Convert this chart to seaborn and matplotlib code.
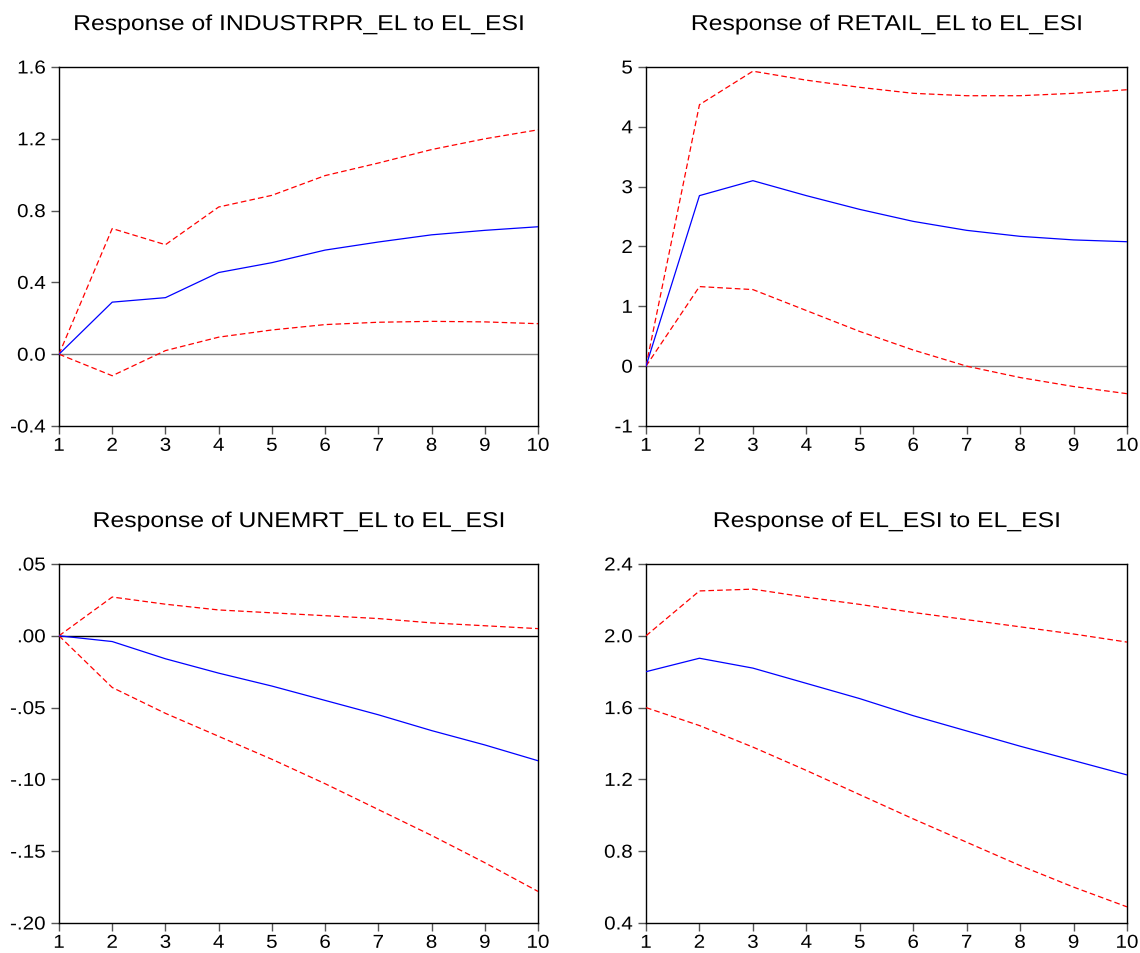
import numpy as np
import pandas as pd
import matplotlib
matplotlib.use("Agg")
import matplotlib.pyplot as plt
import matplotlib.patheffects as pe
from matplotlib.transforms import Affine2D
import seaborn as sns

sns.set_theme(style="white")
plt.rcParams["font.family"] = ["Liberation Sans", "DejaVu Sans"]

periods = list(range(1, 11))

# Impulse responses to an EL_ESI shock with +/- 2 S.E. bands
industrpr_resp = [0.0, 0.29, 0.315, 0.455, 0.51, 0.58, 0.625, 0.665, 0.69, 0.71]
industrpr_upper = [0.0, 0.70, 0.61, 0.82, 0.885, 0.995, 1.065, 1.14, 1.20, 1.25]
industrpr_lower = [0.0, -0.12, 0.02, 0.095, 0.135, 0.165, 0.178, 0.183, 0.18, 0.17]

retail_resp = [0.0, 2.85, 3.10, 2.85, 2.62, 2.42, 2.27, 2.17, 2.11, 2.08]
retail_upper = [0.0, 4.37, 4.93, 4.78, 4.66, 4.56, 4.52, 4.52, 4.56, 4.62]
retail_lower = [0.0, 1.33, 1.28, 0.93, 0.58, 0.27, 0.0, -0.19, -0.34, -0.46]

unemrt_resp = [0.0, -0.004, -0.016, -0.026, -0.035, -0.045, -0.055, -0.066, -0.076, -0.087]
unemrt_upper = [0.0, 0.027, 0.022, 0.018, 0.016, 0.014, 0.012, 0.009, 0.007, 0.005]
unemrt_lower = [0.0, -0.036, -0.054, -0.070, -0.086, -0.103, -0.121, -0.139, -0.158, -0.178]

esi_resp = [1.80, 1.875, 1.82, 1.735, 1.65, 1.555, 1.47, 1.385, 1.305, 1.225]
esi_upper = [2.0, 2.25, 2.26, 2.215, 2.175, 2.13, 2.09, 2.05, 2.01, 1.965]
esi_lower = [1.60, 1.50, 1.38, 1.25, 1.115, 0.98, 0.85, 0.72, 0.60, 0.49]

titles = [
    "Response of INDUSTRPR_EL to EL_ESI",
    "Response of RETAIL_EL to EL_ESI",
    "Response of UNEMRT_EL to EL_ESI",
    "Response of EL_ESI to EL_ESI",
]

ytick_values = [
    [-0.4, 0.0, 0.4, 0.8, 1.2, 1.6],
    [-1, 0, 1, 2, 3, 4, 5],
    [-0.20, -0.15, -0.10, -0.05, 0.00, 0.05],
    [0.4, 0.8, 1.2, 1.6, 2.0, 2.4],
]
ytick_labels = [
    ["-0.4", "0.0", "0.4", "0.8", "1.2", "1.6"],
    ["-1", "0", "1", "2", "3", "4", "5"],
    ["-.20", "-.15", "-.10", "-.05", ".00", ".05"],
    ["0.4", "0.8", "1.2", "1.6", "2.0", "2.4"],
]
zero_line_colors = ["#808080", "#808080", "black", None]

series = [
    (industrpr_resp, industrpr_upper, industrpr_lower),
    (retail_resp, retail_upper, retail_lower),
    (unemrt_resp, unemrt_upper, unemrt_lower),
    (esi_resp, esi_upper, esi_lower),
]


class WideText(pe.AbstractPathEffect):
    """Stretch glyph outlines horizontally about the text's anchor."""

    def __init__(self, sx=1.1, anchor="center"):
        super().__init__()
        self.sx = sx
        self.anchor = anchor

    def draw_path(self, renderer, gc, tpath, affine, rgbFace=None):
        ext = tpath.get_extents()
        if self.anchor == "right":
            cx = ext.x1
        elif self.anchor == "left":
            cx = ext.x0
        else:
            cx = 0.5 * (ext.x0 + ext.x1)
        stretch = Affine2D().translate(-cx, 0).scale(self.sx, 1).translate(cx, 0)
        renderer.draw_path(gc, tpath, stretch + affine, rgbFace)


W, H = 1140, 954
fig = plt.figure(figsize=(W / 100, H / 100), dpi=100)

# panel boxes in pixels: left, top, right, bottom
boxes = [
    (59, 68, 538, 427),
    (646, 68, 1127, 427),
    (59, 565, 538, 924),
    (646, 565, 1127, 924),
]

for i, (box, (resp, up, lo)) in enumerate(zip(boxes, series)):
    l, t, r, b = box
    ax = fig.add_axes([l / W, 1 - b / H, (r - l) / W, (b - t) / H])
    df = pd.DataFrame({"period": periods, "resp": resp, "upper": up, "lower": lo})

    if zero_line_colors[i] is not None:
        ax.axhline(0, color=zero_line_colors[i], lw=1.0, zorder=1)

    sns.lineplot(data=df, x="period", y="upper", ax=ax, color="red",
                 lw=0.9, zorder=3)
    sns.lineplot(data=df, x="period", y="lower", ax=ax, color="red",
                 lw=0.9, zorder=3)
    for ln in ax.lines[-2:]:
        ln.set_dashes([4.5, 2.5])
    sns.lineplot(data=df, x="period", y="resp", ax=ax, color="blue",
                 lw=0.9, zorder=4)

    yt = ytick_values[i]
    ax.set_xlim(1, 10)
    ax.set_ylim(yt[0], yt[-1])
    ax.set_xticks(periods)
    ax.set_xticklabels([str(p) for p in periods])
    ax.set_yticks(yt)
    ax.set_yticklabels(ytick_labels[i])
    ax.set_xlabel("")
    ax.set_ylabel("")
    title = ax.set_title(titles[i], fontsize=15.5, color="black", pad=26.6)
    title.set_path_effects([WideText(1.15, "center")])

    for s in ax.spines.values():
        s.set_visible(True)
        s.set_color("black")
        s.set_linewidth(1.0)
    ax.tick_params(axis="both", which="major", direction="out", length=6,
                   width=1.0, color="#555555", labelsize=13.5, labelcolor="black",
                   bottom=True, left=True, top=False, right=False)
    ax.tick_params(axis="y", pad=3.5)
    ax.tick_params(axis="x", pad=2.5)
    ax.grid(False)
    for lab in ax.get_xticklabels():
        lab.set_path_effects([WideText(1.1, "center")])
    for lab in ax.get_yticklabels():
        lab.set_path_effects([WideText(1.1, "right")])

fig.savefig("out.png", dpi=100, facecolor="white")
